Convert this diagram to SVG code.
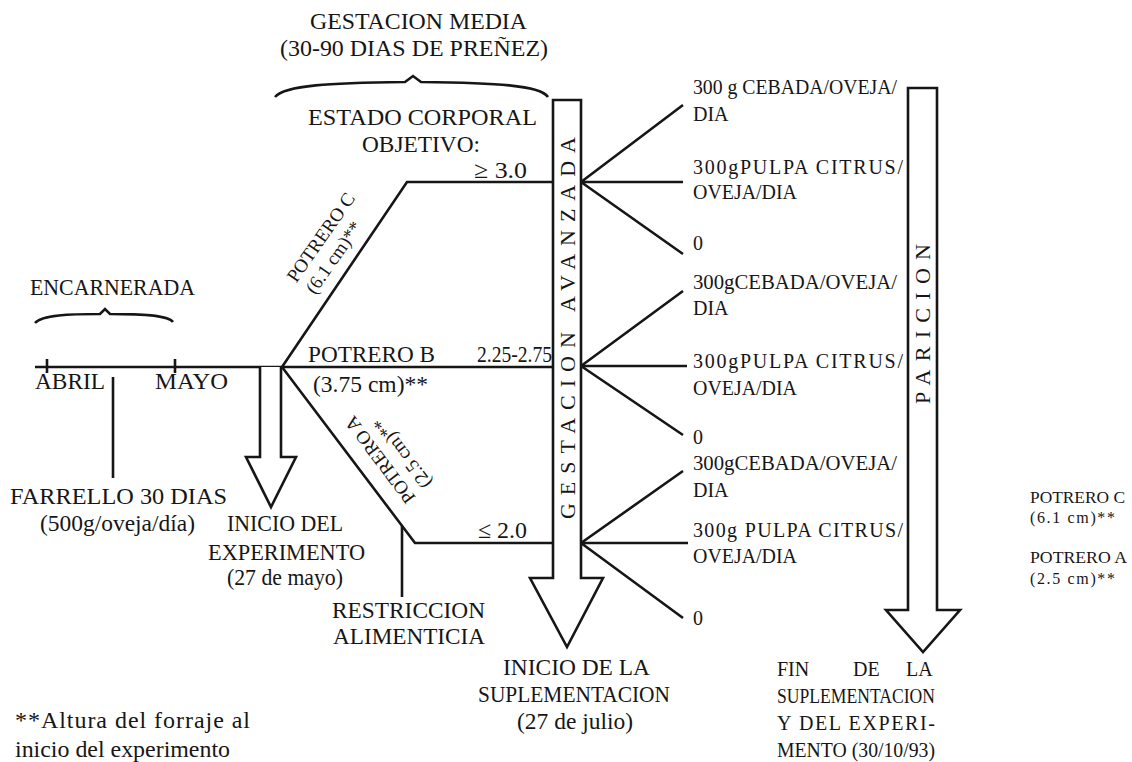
<svg xmlns="http://www.w3.org/2000/svg" width="1132" height="762" viewBox="0 0 1132 762">
<style>
.t{font-family:"Liberation Serif","Times New Roman",serif;fill:#161616}
.l{font-size:24px}
.m{font-size:20px}
.s{font-size:19px}
.xs{font-size:16px}
.v{font-size:22px}
.ln{fill:none;stroke:#161616;stroke-width:2.6;stroke-linejoin:miter}
.ar{fill:#fff;stroke:#161616;stroke-width:2.6;stroke-linejoin:miter}
</style>
<rect width="1132" height="762" fill="#fff"/>

<g id="connectors">
<path class="ln" d="M35,367 H553"/>
<path class="ln" d="M47,359 V373 M175,359 V373"/>
<path class="ln" d="M113,377 V478"/>
<path class="ln" d="M282,367 L407,182 H553"/>
<path class="ln" d="M282,367 L415,543 H553"/>
<path class="ln" d="M402,526 V597"/>
<path class="ln" d="M581,182 L683,105 M581,182 H683 M581,182 L683,254"/>
<path class="ln" d="M581,366 L683,291 M581,366 H687 M581,366 L683,435"/>
<path class="ln" d="M581,543 L683,471 M581,543 H688 M581,543 L683,618"/>
</g>

<g id="gestacion-media">
<text class="t l" x="310" y="29" textLength="217" lengthAdjust="spacingAndGlyphs">GESTACION MEDIA</text>
<text class="t l" x="280" y="56" textLength="268" lengthAdjust="spacingAndGlyphs">(30-90 DIAS DE PREÑEZ)</text>
<path class="ln" stroke-width="2" d="M275,97 C285,85 330,83 405,82 L413,76 L421,82 C495,83 540,85 548,97"/>
</g>

<g id="estado-corporal">
<text class="t l" x="308" y="125" textLength="229" lengthAdjust="spacingAndGlyphs">ESTADO CORPORAL</text>
<text class="t l" x="362" y="152" textLength="118" lengthAdjust="spacingAndGlyphs">OBJETIVO:</text>
</g>

<g id="encarnerada">
<text class="t l" x="30" y="295" textLength="165" lengthAdjust="spacingAndGlyphs">ENCARNERADA</text>
<path class="ln" stroke-width="2" d="M35,323 C42,315 70,314 100,314 L105,309 L110,314 C140,314 168,315 173,322"/>
<text class="t l" x="35" y="389" textLength="70" lengthAdjust="spacingAndGlyphs">ABRIL</text>
<text class="t l" x="155" y="389" textLength="73" lengthAdjust="spacingAndGlyphs">MAYO</text>
</g>

<g id="farrello">
<text class="t l" x="10" y="504" textLength="217" lengthAdjust="spacingAndGlyphs">FARRELLO 30 DIAS</text>
<text class="t l" x="40" y="531" textLength="155" lengthAdjust="spacingAndGlyphs">(500g/oveja/día)</text>
</g>

<g id="inicio-experimento">
<path class="ar" d="M260,367 V457 H246 L271,507 L296,457 H281 V367"/>
<text class="t l" x="227" y="531" textLength="116" lengthAdjust="spacingAndGlyphs">INICIO DEL</text>
<text class="t l" x="208" y="560" textLength="157" lengthAdjust="spacingAndGlyphs">EXPERIMENTO</text>
<text class="t l" x="227" y="585" textLength="116" lengthAdjust="spacingAndGlyphs">(27 de mayo)</text>
</g>

<g id="potrero-c">
<g transform="translate(326,241) rotate(-55)">
<text class="t s" x="0" y="0" text-anchor="middle">POTRERO C</text>
<text class="t s" x="-9" y="22" text-anchor="middle">(6.1 cm)**</text>
</g>
<text class="t l" x="474" y="178" textLength="53" lengthAdjust="spacingAndGlyphs">≥ 3.0</text>
</g>

<g id="potrero-b">
<text class="t l" x="308" y="362" textLength="127" lengthAdjust="spacingAndGlyphs">POTRERO B</text>
<text class="t l" x="477" y="362" textLength="75" lengthAdjust="spacingAndGlyphs">2.25-2.75</text>
<text class="t l" x="313" y="392" textLength="115" lengthAdjust="spacingAndGlyphs">(3.75 cm)**</text>
</g>

<g id="potrero-a">
<g transform="translate(385,456) rotate(-127)">
<text class="t s" x="0" y="0" text-anchor="middle">POTRERO A</text>
<text class="t s" x="-8" y="22" text-anchor="middle">(2.5 cm)**</text>
</g>
<text class="t l" x="478" y="538" textLength="49" lengthAdjust="spacingAndGlyphs">≤ 2.0</text>
</g>

<g id="restriccion">
<text class="t l" x="332" y="618" textLength="153" lengthAdjust="spacingAndGlyphs">RESTRICCION</text>
<text class="t l" x="333" y="644" textLength="152" lengthAdjust="spacingAndGlyphs">ALIMENTICIA</text>
</g>

<g id="gestacion-avanzada">
<path class="ar" d="M553,100 H581 V578 H603 L567,647 L530,578 H553 Z"/>
<text class="t v" transform="translate(575,328) rotate(-90)" text-anchor="middle" textLength="382">GESTACION AVANZADA</text>
</g>

<g id="inicio-suplementacion">
<text class="t l" x="503" y="675" textLength="147" lengthAdjust="spacingAndGlyphs">INICIO DE LA</text>
<text class="t l" x="478" y="702" textLength="192" lengthAdjust="spacingAndGlyphs">SUPLEMENTACION</text>
<text class="t l" x="517" y="729" textLength="116" lengthAdjust="spacingAndGlyphs">(27 de julio)</text>
</g>

<g id="suplementos">
<text class="t m" x="693" y="94" textLength="204" lengthAdjust="spacingAndGlyphs">300 g CEBADA/OVEJA/</text>
<text class="t m" x="693" y="121">DIA</text>
<text class="t m" x="693" y="174" textLength="210">300gPULPA CITRUS/</text>
<text class="t m" x="693" y="199" textLength="104" lengthAdjust="spacingAndGlyphs">OVEJA/DIA</text>
<text class="t m" x="693" y="250">0</text>
<text class="t m" x="693" y="289" textLength="204" lengthAdjust="spacingAndGlyphs">300gCEBADA/OVEJA/</text>
<text class="t m" x="693" y="315">DIA</text>
<text class="t m" x="693" y="368" textLength="210">300gPULPA CITRUS/</text>
<text class="t m" x="693" y="395" textLength="104" lengthAdjust="spacingAndGlyphs">OVEJA/DIA</text>
<text class="t m" x="693" y="444">0</text>
<text class="t m" x="693" y="470" textLength="204" lengthAdjust="spacingAndGlyphs">300gCEBADA/OVEJA/</text>
<text class="t m" x="693" y="497">DIA</text>
<text class="t m" x="693" y="537" textLength="210">300g PULPA CITRUS/</text>
<text class="t m" x="693" y="563" textLength="104" lengthAdjust="spacingAndGlyphs">OVEJA/DIA</text>
<text class="t m" x="693" y="625">0</text>
</g>

<g id="paricion">
<path class="ar" d="M908,88 H937 V610 H960 L923,652 L886,610 H908 Z"/>
<text class="t v" transform="translate(930,324) rotate(-90)" text-anchor="middle" textLength="160">PARICION</text>
</g>

<g id="fin-suplementacion">
<text class="t m" y="676"><tspan x="777">FIN</tspan><tspan x="853">DE</tspan><tspan x="906">LA</tspan></text>
<text class="t m" x="777" y="703" textLength="158" lengthAdjust="spacingAndGlyphs">SUPLEMENTACION</text>
<text class="t m" x="777" y="730" textLength="158">Y DEL EXPERI-</text>
<text class="t m" x="777" y="757" textLength="158" lengthAdjust="spacingAndGlyphs">MENTO (30/10/93)</text>
</g>

<g id="nota">
<text class="t l" x="15" y="728" textLength="235">**Altura del forraje al</text>
<text class="t l" x="15" y="757" textLength="215" lengthAdjust="spacingAndGlyphs">inicio del experimento</text>
</g>

<g id="leyenda">
<text class="t xs" x="1030" y="503" textLength="95" lengthAdjust="spacingAndGlyphs">POTRERO C</text>
<text class="t xs" x="1030" y="523" textLength="85">(6.1 cm)**</text>
<text class="t xs" x="1030" y="563" textLength="97" lengthAdjust="spacingAndGlyphs">POTRERO A</text>
<text class="t xs" x="1030" y="584" textLength="85">(2.5 cm)**</text>
</g>
</svg>
